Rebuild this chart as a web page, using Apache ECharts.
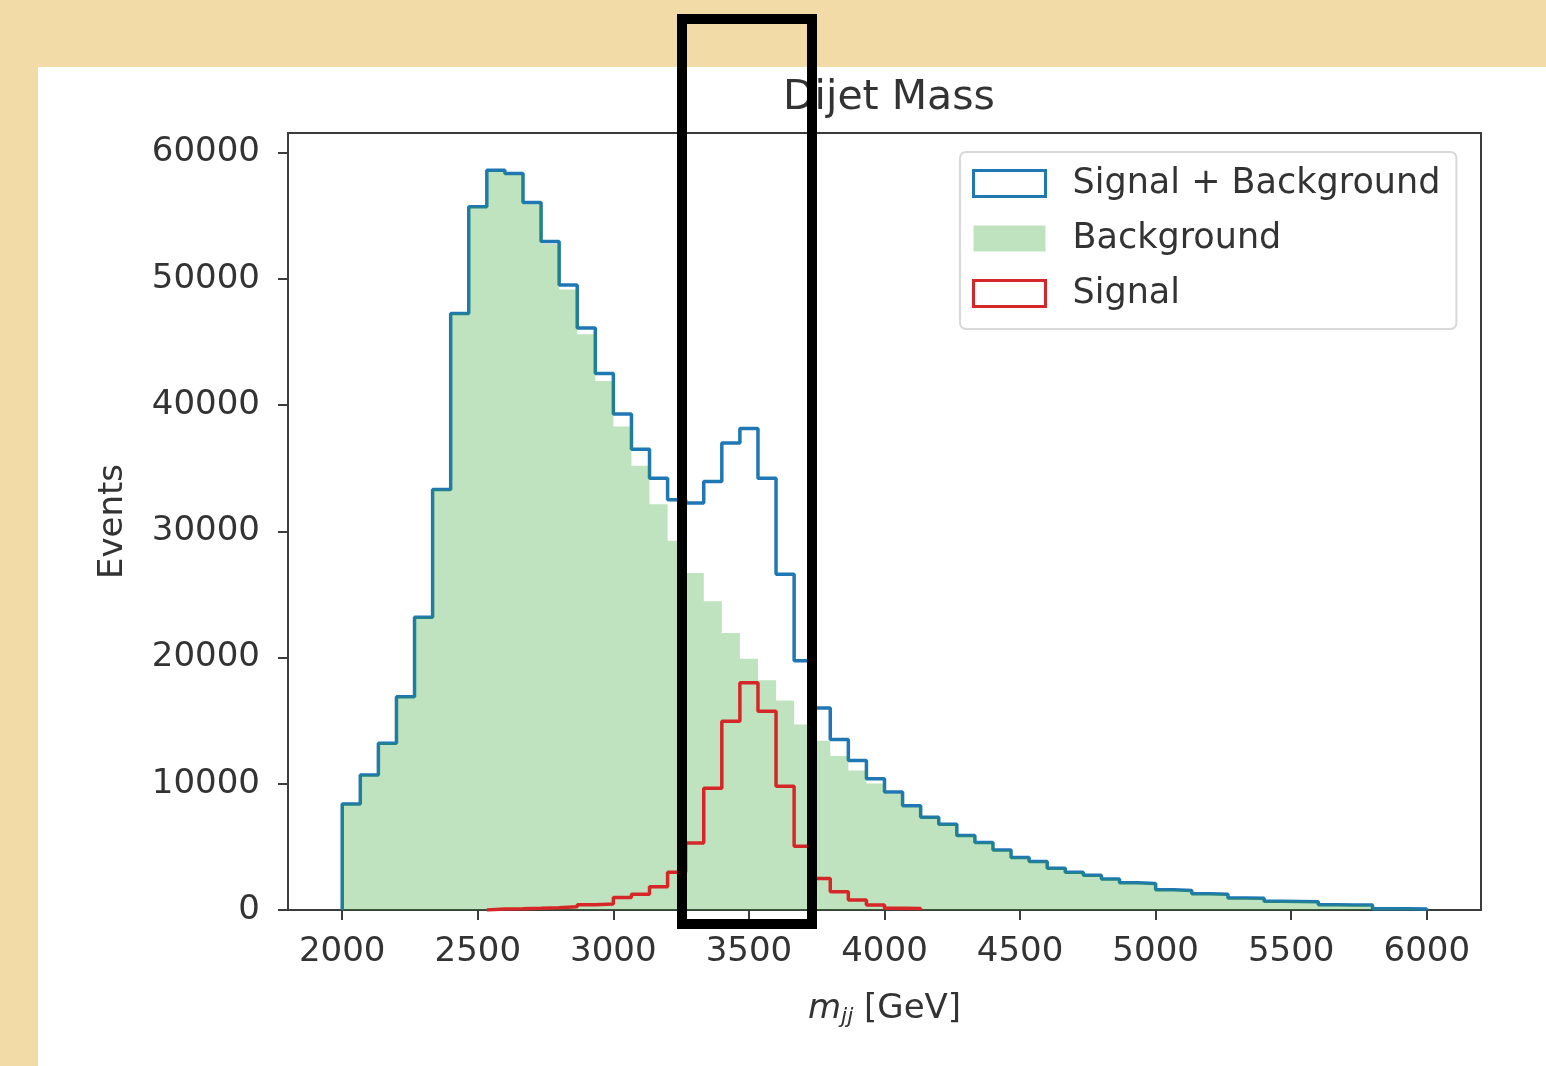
<!DOCTYPE html>
<html>
<head>
<meta charset="utf-8">
<script src="https://cdn.jsdelivr.net/npm/echarts@6/dist/echarts.min.js"></script>
<style>
html,body{margin:0;padding:0;background:#F2DBA7;}
#chart{width:1546px;height:1066px;}
</style>
</head>
<body>
<div id="chart"></div>
<script>
// Histogram binning: 60 bins from 2000 to 6000 GeV
const binLo = 2000, binHi = 6000, nBins = 60;
const xTicks = [2000, 2500, 3000, 3500, 4000, 4500, 5000, 5500, 6000];
const yTicks = [0, 10000, 20000, 30000, 40000, 50000, 60000];

// Signal + Background (blue step), bins 0..59
const sigPlusBkg = [
  8400, 10700, 13200, 16900, 23200, 33300, 47250, 55700, 58600, 58350,
  56050, 52950, 49500, 46100, 42500, 39300, 36500, 34200, 32500, 32250,
  33950, 37000, 38150, 34200, 26600, 19750, 16000, 13500, 11850, 10400,
  9350, 8250, 7350, 6800, 5900, 5350, 4750, 4150, 3850, 3300,
  3000, 2750, 2450, 2150, 2100, 1600, 1550, 1280, 1240, 960,
  940, 700, 680, 660, 420, 400, 390, 100, 90, 80
];

// Background (green filled), bins 0..59
const background = [
  8400, 10700, 13200, 16900, 23200, 33300, 47250, 55700, 58500, 58250,
  55900, 52750, 49150, 45600, 41900, 38300, 35200, 32150, 29250, 26700,
  24450, 21950, 19900, 18200, 16600, 14700, 13400, 12200, 11050, 10020,
  9200, 8150, 7350, 6800, 5900, 5350, 4750, 4150, 3850, 3300,
  3000, 2750, 2450, 2150, 2100, 1600, 1550, 1280, 1240, 960,
  940, 700, 680, 660, 420, 400, 390, 100, 90, 80
];

// Signal (red step), bins 8..31
const signalFirstBin = 8;
const signal = [
  80, 100, 130, 170, 250, 420, 470, 1000, 1250, 1850,
  3000, 5300, 9650, 14950, 18000, 15750, 9800, 5050, 2500, 1450,
  800, 400, 140, 120
];

const edges = [];
for (let i = 0; i <= nBins; i++) edges.push(binLo + (binHi - binLo) * i / nBins);

function stepData(first, vals) {
  const d = [[edges[first], 0]];
  vals.forEach((v, i) => d.push([edges[first + i], v]));
  const end = edges[first + vals.length];
  d.push([end, vals[vals.length - 1]]);
  d.push([end, 0]);
  return d;
}

const FONT = "'DejaVu Sans', sans-serif";
const TXT = '#333';
const plain = v => String(v);
const chart = echarts.init(document.getElementById('chart'), null, {renderer: 'canvas'});
chart.setOption({
  animation: false,
  backgroundColor: '#F2DBA7',
  graphic: [
    {type: 'rect', z: -10, shape: {x: 38, y: 67, width: 1508, height: 999}, style: {fill: '#ffffff'}},
    {type: 'rect', z: 100, shape: {x: 682, y: 19, width: 130, height: 905}, style: {fill: 'none', stroke: '#000', lineWidth: 10}}
  ],
  title: {
    text: 'Dijet Mass', left: 884, top: 73, textAlign: 'center',
    textStyle: {fontFamily: FONT, fontSize: 41, fontWeight: 'normal', color: TXT}
  },
  legend: {
    orient: 'vertical', left: 960, top: 152,
    padding: [14, 16, 18, 12],
    itemGap: 20, itemWidth: 72, itemHeight: 26,
    backgroundColor: '#fff', borderColor: '#d8d8d8', borderWidth: 2, borderRadius: 6,
    textStyle: {fontFamily: FONT, fontSize: 35, color: TXT, padding: [0, 0, 0, 22]},
    data: [
      {name: 'Signal + Background', icon: 'rect', itemStyle: {color: '#fff', borderColor: '#1f77b4', borderWidth: 3}},
      {name: 'Background', icon: 'rect', itemStyle: {color: 'rgba(44,160,44,0.3)', borderWidth: 0}},
      {name: 'Signal', icon: 'rect', itemStyle: {color: '#fff', borderColor: '#d62728', borderWidth: 3}}
    ]
  },
  grid: {left: 288, right: 65, top: 133, bottom: 156, show: true, borderColor: '#3c3c3c', borderWidth: 2, backgroundColor: 'transparent'},
  xAxis: {
    type: 'value', min: 1800, max: 6200,
    name: '{i|m}{s|jj} [GeV]', nameLocation: 'middle', nameGap: 80,
    nameTextStyle: {fontFamily: FONT, fontSize: 34, color: TXT,
      rich: {i: {fontFamily: FONT, fontSize: 34, fontStyle: 'italic', color: TXT},
             s: {fontFamily: FONT, fontSize: 22, fontStyle: 'italic', color: TXT, padding: [16, 0, 0, 0]}}},
    axisLine: {show: true, onZero: false, lineStyle: {color: '#3c3c3c', width: 2}},
    axisTick: {show: true, length: 10, lineStyle: {color: '#3c3c3c', width: 2}, customValues: xTicks},
    axisLabel: {fontFamily: FONT, fontSize: 34, color: TXT, margin: 25, customValues: xTicks, formatter: plain},
    splitLine: {show: false}
  },
  yAxis: {
    type: 'value', min: 0, max: 61550,
    name: 'Events', nameLocation: 'middle', nameGap: 158,
    nameTextStyle: {fontFamily: FONT, fontSize: 34, color: TXT},
    axisLine: {show: true, lineStyle: {color: '#3c3c3c', width: 2}},
    axisTick: {show: true, length: 10, lineStyle: {color: '#3c3c3c', width: 2}, customValues: yTicks},
    axisLabel: {fontFamily: FONT, fontSize: 34, color: TXT, margin: 28, customValues: yTicks, formatter: plain},
    splitLine: {show: false}
  },
  series: [
    {name: 'Signal + Background', type: 'line', step: 'end', symbol: 'none', z: 2,
     data: stepData(0, sigPlusBkg), color: '#1f77b4',
     lineStyle: {color: '#1f77b4', width: 3.5}},
    {name: 'Background', type: 'line', step: 'end', symbol: 'none', z: 3,
     data: stepData(0, background), color: 'rgba(44,160,44,0.3)',
     lineStyle: {width: 0, opacity: 0}, areaStyle: {color: 'rgba(44,160,44,0.3)', opacity: 1}},
    {name: 'Signal', type: 'line', step: 'end', symbol: 'none', z: 4,
     data: stepData(signalFirstBin, signal), color: '#d62728',
     lineStyle: {color: '#d62728', width: 3.5}}
  ]
});
</script>
</body>
</html>
